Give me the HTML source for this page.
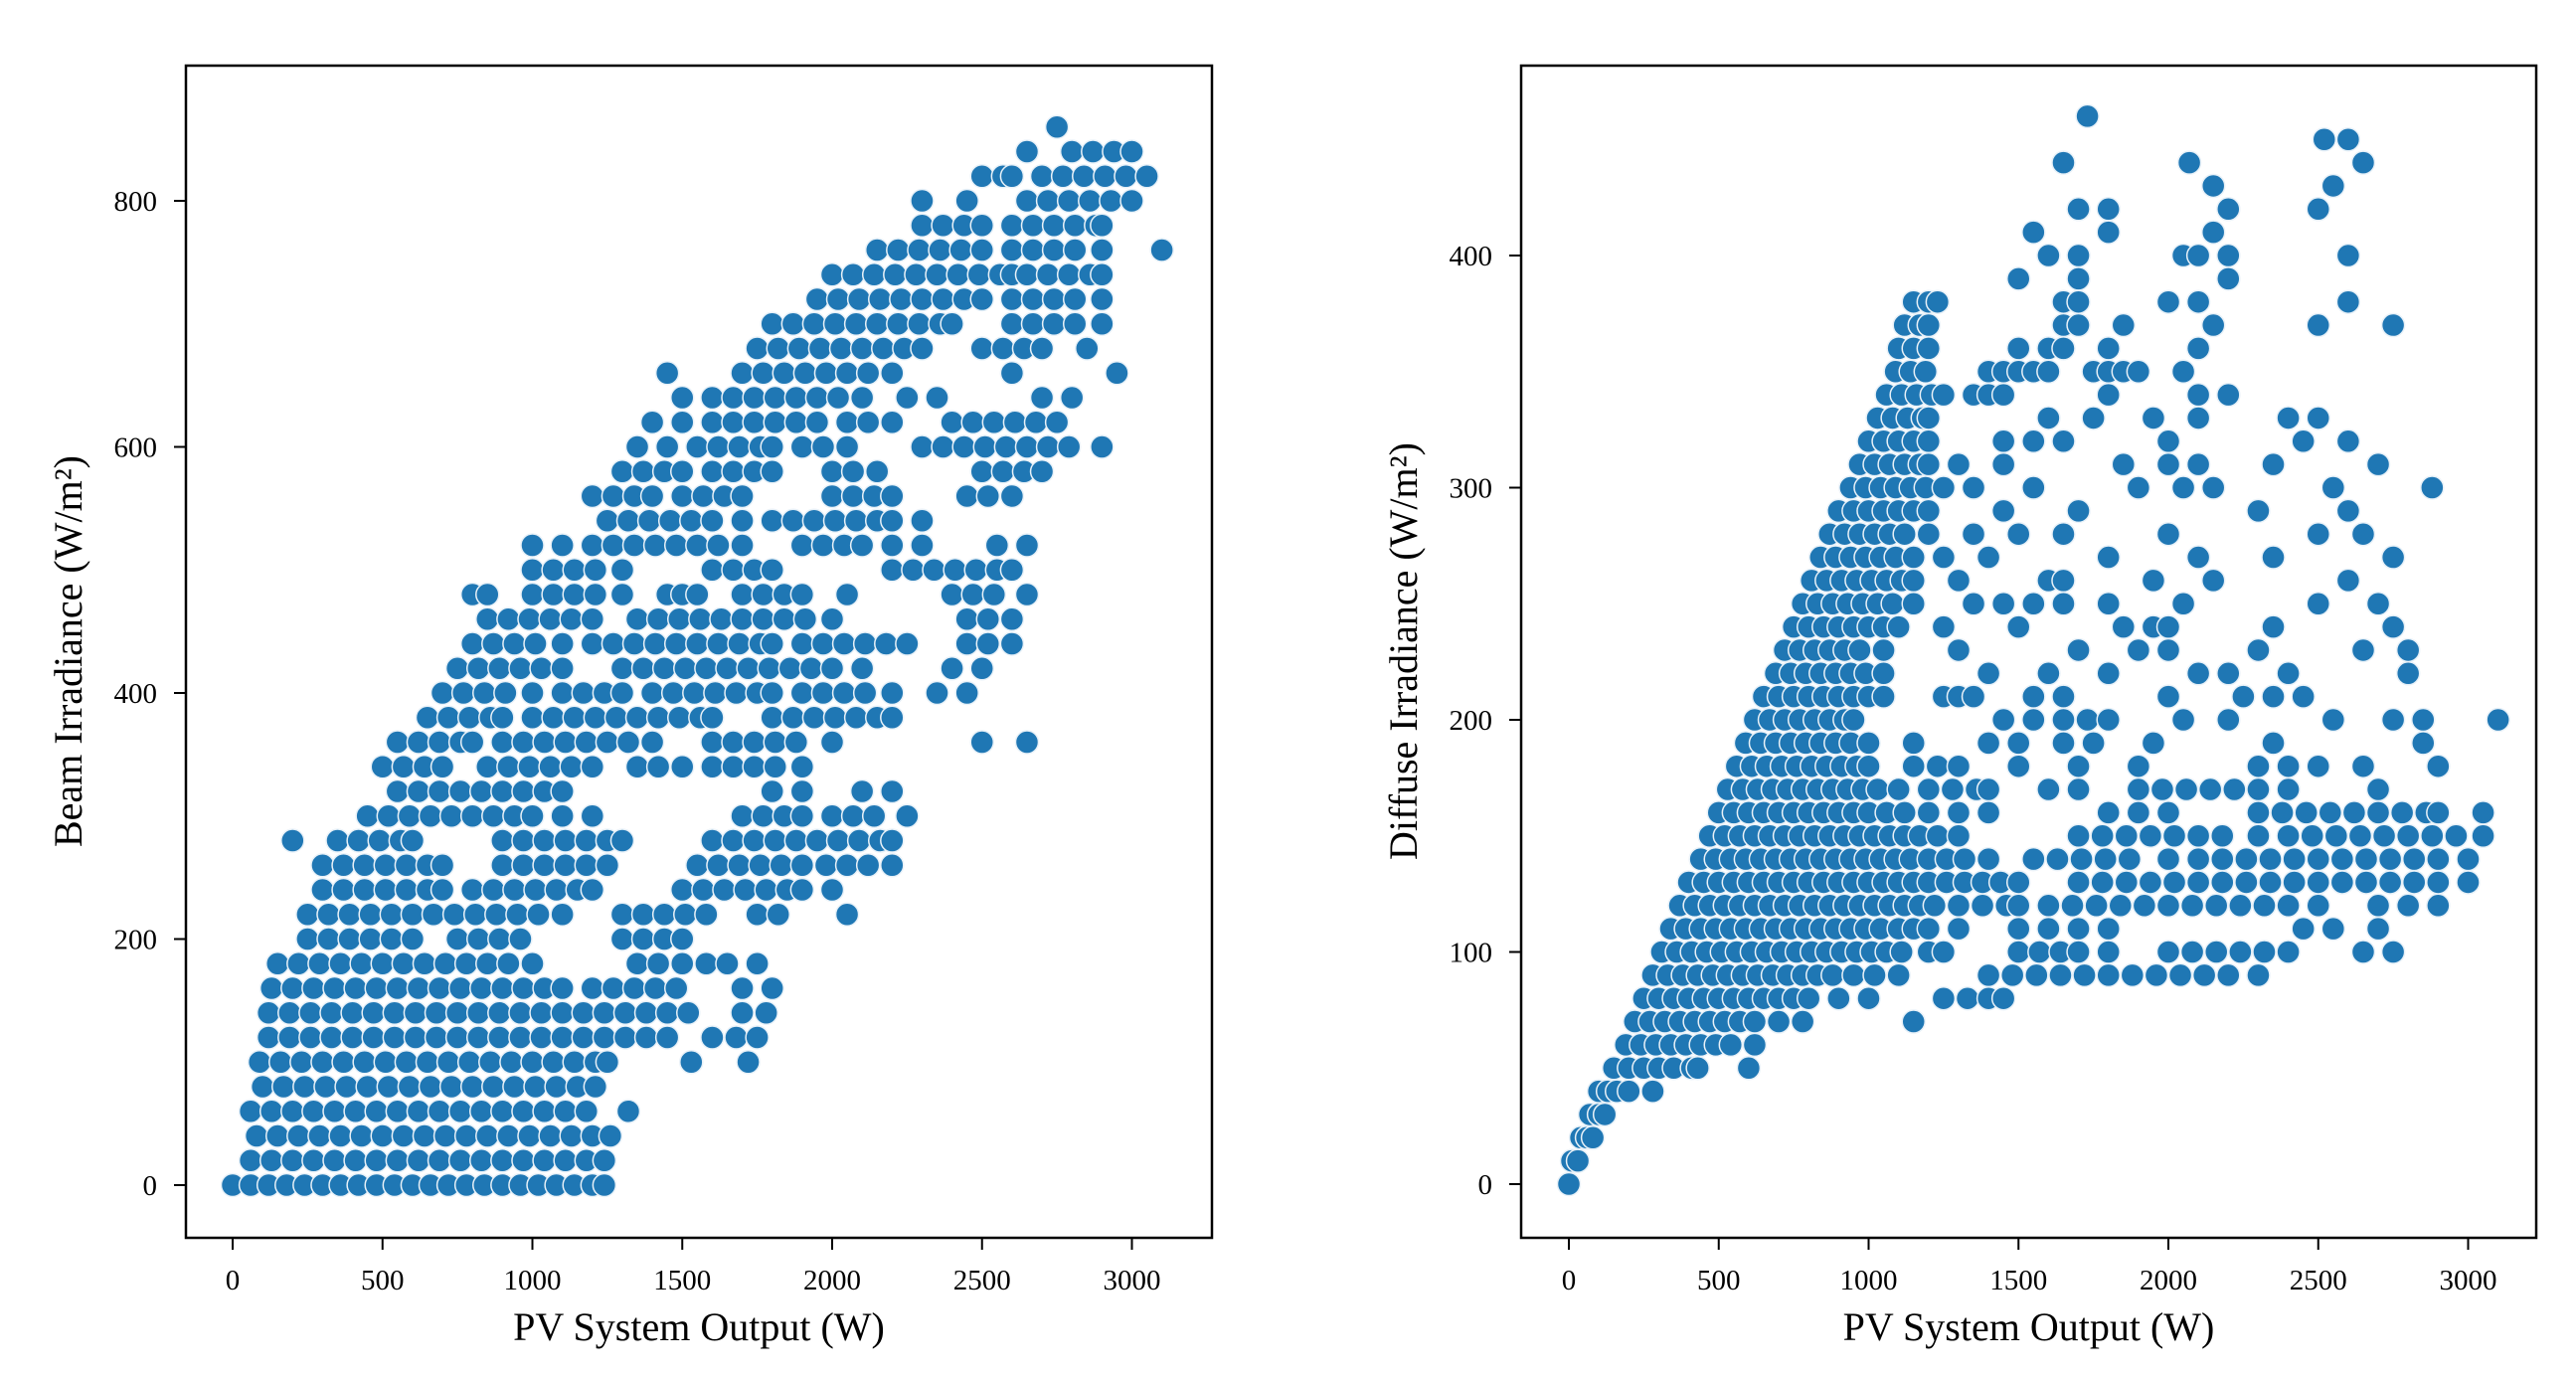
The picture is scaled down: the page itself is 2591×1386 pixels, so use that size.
<!DOCTYPE html>
<html><head><meta charset="utf-8">
<style>
html,body{margin:0;padding:0;background:#fff;}
svg{display:block;}
text{font-family:"Liberation Serif","DejaVu Serif",serif;fill:#000;}
</style></head>
<body>
<svg id="chart" width="2591" height="1386" viewBox="0 0 2591 1386" xmlns="http://www.w3.org/2000/svg">
<rect x="0" y="0" width="2591" height="1386" fill="#fff"/>
<g id="left"></g>
<g id="right"></g>
</svg>
<script>
const xTicks = [0, 500, 1000, 1500, 2000, 2500, 3000];
const beamTicks = [0, 200, 400, 600, 800];
const diffuseTicks = [0, 100, 200, 300, 400];
const xLabel = "PV System Output (W)";
const beamLabel = "Beam Irradiance (W/m²)";
const diffuseLabel = "Diffuse Irradiance (W/m²)";

// Beam irradiance rows: [irradiance, [pv outputs...]]
const beamRows = [
[0,[0,60,120,180,240,300,360,420,480,540,600,660,720,780,840,900,960,1020,1080,1140,1200,1240]],
[20,[60,130,200,270,340,410,480,550,620,690,760,830,900,970,1040,1110,1180,1240]],
[40,[80,150,220,290,360,430,500,570,640,710,780,850,920,990,1060,1130,1200,1260]],
[60,[60,130,200,270,340,410,480,550,620,690,760,830,900,970,1040,1110,1180,1320]],
[80,[100,170,240,310,380,450,520,590,660,730,800,870,940,1010,1080,1150,1210]],
[100,[90,160,230,300,370,440,510,580,650,720,790,860,930,1000,1070,1140,1210,1250,1530,1720]],
[120,[120,190,260,330,400,470,540,610,680,750,820,890,960,1030,1100,1170,1240,1310,1380,1450,1600,1680,1750]],
[140,[120,190,260,330,400,470,540,610,680,750,820,890,960,1030,1100,1170,1240,1310,1380,1450,1520,1700,1780]],
[160,[130,200,270,340,410,480,550,620,690,760,830,900,970,1040,1100,1200,1270,1340,1410,1480,1700,1800]],
[180,[150,220,290,360,430,500,570,640,710,780,850,920,1000,1350,1420,1500,1580,1650,1750]],
[200,[250,320,390,460,530,600,750,820,890,960,1300,1370,1440,1500]],
[220,[250,320,390,460,530,600,670,740,810,880,950,1020,1100,1300,1370,1440,1510,1580,1750,1820,2050]],
[240,[300,370,440,510,580,650,700,800,870,940,1010,1080,1150,1200,1500,1570,1640,1710,1780,1850,1900,2000]],
[260,[300,370,440,510,580,650,700,900,970,1040,1110,1180,1250,1550,1620,1690,1760,1830,1900,1980,2050,2120,2200]],
[280,[200,350,420,490,560,600,900,970,1040,1110,1180,1250,1300,1600,1670,1740,1810,1880,1950,2020,2090,2160,2200]],
[300,[450,520,590,660,730,800,870,940,1000,1100,1200,1700,1770,1840,1900,2000,2070,2140,2250]],
[320,[550,620,690,760,830,900,970,1040,1100,1800,1900,2100,2200]],
[340,[500,570,640,700,850,920,990,1060,1130,1200,1350,1420,1500,1600,1670,1740,1810,1900]],
[360,[550,620,690,760,800,900,970,1040,1110,1180,1250,1320,1400,1600,1670,1740,1810,1880,2000,2500,2650]],
[380,[650,720,790,860,900,1000,1070,1140,1210,1280,1350,1420,1490,1560,1600,1800,1870,1940,2010,2080,2150,2200]],
[400,[700,770,840,910,1000,1100,1170,1240,1300,1400,1470,1540,1610,1680,1750,1800,1900,1970,2040,2110,2200,2350,2450]],
[420,[750,820,890,960,1030,1100,1300,1370,1440,1510,1580,1650,1720,1790,1860,1930,2000,2100,2400,2500]],
[440,[800,870,940,1010,1100,1200,1270,1340,1410,1480,1550,1620,1690,1760,1800,1900,1970,2040,2110,2180,2250,2450,2520,2600]],
[460,[850,920,990,1060,1130,1200,1350,1420,1490,1560,1630,1700,1770,1840,1910,2000,2450,2520,2600]],
[480,[800,850,1000,1070,1140,1210,1300,1450,1500,1550,1700,1770,1840,1900,2050,2400,2470,2540,2650]],
[500,[1000,1070,1140,1210,1300,1600,1670,1740,1800,2200,2270,2340,2410,2480,2550,2600]],
[520,[1000,1100,1200,1270,1340,1410,1480,1550,1620,1700,1900,1970,2040,2100,2200,2300,2550,2650]],
[540,[1250,1320,1390,1460,1530,1600,1700,1800,1870,1940,2010,2080,2150,2200,2300]],
[560,[1200,1270,1340,1400,1500,1570,1640,1700,2000,2070,2140,2200,2450,2520,2600]],
[580,[1300,1370,1440,1500,1600,1670,1740,1800,2000,2070,2150,2500,2570,2640,2700]],
[600,[1350,1450,1550,1620,1690,1760,1800,1900,1970,2050,2300,2370,2440,2510,2580,2650,2720,2790,2900]],
[620,[1400,1500,1600,1670,1740,1810,1880,1950,2050,2120,2200,2400,2470,2540,2610,2680,2750]],
[640,[1500,1600,1670,1740,1810,1880,1950,2020,2100,2250,2350,2700,2800]],
[660,[1450,1700,1770,1840,1910,1980,2050,2120,2200,2600,2950]],
[680,[1750,1820,1890,1960,2030,2100,2170,2240,2300,2500,2570,2640,2700,2850]],
[700,[1800,1870,1940,2010,2080,2150,2220,2290,2360,2400,2600,2670,2740,2810,2900]],
[720,[1950,2020,2090,2160,2230,2300,2370,2440,2500,2600,2670,2740,2810,2900]],
[740,[2000,2070,2140,2210,2280,2350,2420,2490,2560,2600,2650,2720,2790,2860,2900]],
[760,[2150,2220,2290,2360,2430,2500,2600,2670,2740,2810,2900,3100]],
[780,[2300,2370,2440,2500,2600,2670,2740,2810,2880,2900]],
[800,[2300,2450,2650,2720,2790,2860,2930,3000]],
[820,[2500,2570,2600,2700,2770,2840,2910,2980,3050]],
[840,[2650,2800,2870,2940,3000]],
[860,[2750]]
];

// Diffuse irradiance rows: [irradiance, [pv outputs...]]
const diffuseRows = [
[0,[0]],[10,[10,30]],[20,[40,60,80]],[30,[70,100,120]],[40,[100,130,160,200,280]],
[50,[150,200,250,300,350,410,430,600]],
[60,[190,240,290,340,390,440,490,540,620]],
[70,[220,270,320,370,420,470,520,570,620,700,780,1150]],
[80,[250,300,350,400,450,500,550,600,650,700,750,800,900,1000,1250,1330,1400,1450]],
[90,[280,330,380,430,480,530,580,630,680,730,780,830,880,950,1020,1100,1400,1480,1560,1640,1720,1800,1880,1960,2040,2120,2200,2300]],
[100,[310,360,410,460,510,560,610,660,710,760,810,860,910,960,1010,1060,1110,1200,1250,1500,1570,1640,1700,1800,2000,2080,2160,2240,2320,2400,2650,2750]],
[110,[340,390,440,490,540,590,640,690,740,790,840,890,940,990,1040,1100,1150,1200,1300,1500,1600,1700,1800,2450,2550,2700]],
[120,[370,420,470,520,570,620,670,720,770,820,870,920,970,1020,1070,1120,1170,1220,1300,1380,1460,1500,1600,1680,1760,1840,1920,2000,2080,2160,2240,2320,2400,2500,2700,2800,2900]],
[130,[400,450,500,550,600,650,700,750,800,850,900,950,1000,1050,1100,1150,1200,1260,1320,1380,1440,1500,1700,1780,1860,1940,2020,2100,2180,2260,2340,2420,2500,2580,2660,2740,2820,2900,3000]],
[140,[440,490,540,590,640,690,740,790,840,890,940,990,1040,1090,1140,1200,1260,1320,1400,1550,1630,1710,1790,1870,2000,2100,2180,2260,2340,2420,2500,2580,2660,2740,2820,2900,3000]],
[150,[470,520,570,620,670,720,770,820,870,920,970,1020,1070,1120,1170,1230,1300,1700,1780,1860,1940,2020,2100,2180,2300,2400,2480,2560,2640,2720,2800,2880,2960,3050]],
[160,[500,550,600,650,700,750,800,850,900,950,1000,1060,1120,1200,1300,1400,1800,1900,2000,2300,2380,2460,2540,2620,2700,2780,2860,2900,3050]],
[170,[530,580,630,680,730,780,830,880,930,980,1030,1100,1200,1280,1360,1400,1600,1700,1900,1980,2060,2140,2220,2300,2400,2700]],
[180,[560,610,660,710,760,810,860,910,960,1000,1150,1230,1300,1500,1700,1900,2300,2400,2500,2650,2900]],
[190,[590,640,690,740,790,840,890,940,1000,1150,1400,1500,1650,1750,1950,2350,2850]],
[200,[620,670,720,770,820,870,920,950,1450,1550,1650,1730,1800,2050,2200,2550,2750,2850,3100]],
[210,[650,700,750,800,850,900,950,1000,1050,1250,1300,1350,1550,1650,2000,2250,2350,2450]],
[220,[690,740,790,840,890,940,990,1050,1400,1600,1800,2100,2200,2400,2800]],
[230,[720,770,820,870,920,970,1050,1300,1700,1900,2000,2300,2650,2800]],
[240,[750,800,850,900,950,1000,1050,1100,1250,1500,1850,1950,2000,2350,2750]],
[250,[780,830,880,930,980,1030,1080,1150,1350,1450,1550,1650,1800,2050,2500,2700]],
[260,[810,860,910,960,1010,1060,1110,1150,1300,1600,1650,1950,2150,2600]],
[270,[840,890,940,990,1040,1090,1150,1250,1400,1800,2100,2350,2750]],
[280,[870,920,970,1020,1070,1120,1200,1350,1500,1650,2000,2500,2650]],
[290,[900,950,1000,1050,1100,1150,1200,1450,1700,2300,2600]],
[300,[940,990,1040,1090,1140,1190,1250,1350,1550,1900,2050,2150,2550,2880]],
[310,[970,1020,1070,1120,1170,1200,1300,1450,1850,2000,2100,2350,2700]],
[320,[1000,1050,1100,1150,1200,1450,1550,1650,2000,2450,2600]],
[330,[1030,1080,1130,1180,1200,1600,1750,1950,2100,2400,2500]],
[340,[1060,1110,1160,1210,1250,1350,1400,1450,1800,2100,2200]],
[350,[1090,1140,1190,1400,1450,1500,1550,1600,1750,1800,1850,1900,2050]],
[360,[1100,1150,1200,1500,1600,1650,1800,2100]],
[370,[1120,1170,1200,1650,1700,1850,2150,2500,2750]],
[380,[1150,1200,1230,1650,1700,2000,2100,2600]],
[390,[1500,1700,2200]],
[400,[1600,1700,2050,2100,2200,2600]],
[410,[1550,1800,2150]],
[420,[1700,1800,2200,2500]],
[430,[2150,2550]],
[440,[1650,2070,2650]],
[450,[2520,2600]],
[460,[1730]]
];

const NS = "http://www.w3.org/2000/svg";
function mk(tag, attrs, parent){
  const e = document.createElementNS(NS, tag);
  for (const k in attrs) e.setAttribute(k, attrs[k]);
  parent.appendChild(e);
  return e;
}

function drawPanel(g, box, xScale, yScale, rows, yTicks, yLabel, labelX, prefix){
  const pts = mk('g', {}, g);
  
  
  rows.forEach(function(row){
    const yv = row[0];
    row[1].forEach(function(xv){
      const c = mk('circle', {cx: xScale(xv), cy: yScale(yv), r: 11.5, fill: '#1f77b4', stroke: '#e8f1f8', 'stroke-width': 1.5}, pts);
      
      
    });
  });
  const fr = mk('rect', {x: box.x0, y: box.y0, width: box.x1 - box.x0, height: box.y1 - box.y0, fill: 'none', stroke: '#000', 'stroke-width': 2.5}, g);
  
  
  xTicks.forEach(function(t){
    const x = xScale(t);
    const l = mk('line', {x1: x, x2: x, y1: box.y1, y2: box.y1 + 12, stroke: '#000', 'stroke-width': 2}, g);
    
    
    const tx = mk('text', {x: x, y: box.y1 + 52, 'font-size': 29, 'text-anchor': 'middle'}, g);
    tx.textContent = t;
    
    
  });
  yTicks.forEach(function(t){
    const y = yScale(t);
    const l = mk('line', {x1: box.x0 - 12, x2: box.x0, y1: y, y2: y, stroke: '#000', 'stroke-width': 2}, g);
    
    
    const tx = mk('text', {x: box.x0 - 29, y: y + 10, 'font-size': 29, 'text-anchor': 'end'}, g);
    tx.textContent = t;
    
    
  });
  const xl = mk('text', {x: (box.x0 + box.x1) / 2, y: 1348, 'font-size': 40, 'text-anchor': 'middle'}, g);
  xl.textContent = xLabel;
  
  
  const yl = mk('text', {x: 0, y: 0, 'font-size': 40, 'text-anchor': 'middle', transform: 'translate(' + labelX + ',655) rotate(-90)'}, g);
  yl.textContent = yLabel;
  
  
}

const leftBox = {x0: 187, x1: 1219, y0: 66, y1: 1245};
const rightBox = {x0: 1530, x1: 2551, y0: 66, y1: 1245};
const lx = function(v){ return 234 + v * 0.3015; };
const ly = function(v){ return 1192 - v * 1.2375; };
const rx = function(v){ return 1578 + v * 0.3015; };
const ry = function(v){ return 1191 - v * 2.335; };

drawPanel(document.getElementById('left'), leftBox, lx, ly, beamRows, beamTicks, beamLabel, 82, 'beam');
drawPanel(document.getElementById('right'), rightBox, rx, ry, diffuseRows, diffuseTicks, diffuseLabel, 1425, 'diffuse');
</script>
</body></html>
